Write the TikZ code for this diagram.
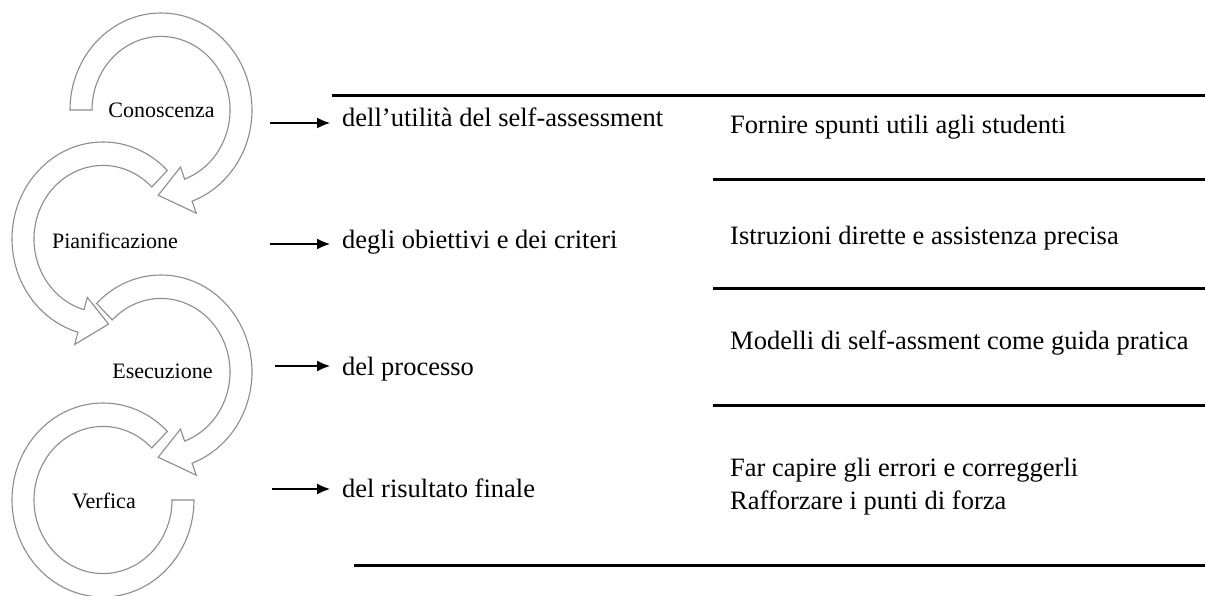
\documentclass[tikz,border=0pt]{standalone}
\usepackage{fontspec}
\setmainfont{Liberation Serif}
\usetikzlibrary{calc,arrows.meta}

% curved band arrow: centre x, centre y, start angle, end angle, tip offset
\newcommand{\ringarrow}[5]{%
  \begin{scope}[shift={(#1,#2)}, yscale=1.066]
    \draw[cyc] (#3:91) arc[start angle=#3, end angle=#4, radius=91]
      -- (#4:103) -- ({#4+#5}:80) -- (#4:57) -- (#4:69)
      arc[start angle=#4, end angle=#3, radius=69] -- cycle;
  \end{scope}}

\begin{document}
\begin{tikzpicture}[x=1pt, y=-1pt,
  cyc/.style={draw=black!45, fill=white, line width=1.1pt, line join=miter},
  rule/.style={line width=3pt},
  pointer/.style={line width=1.3pt, -{Latex[length=13pt,width=11pt]}, shorten >=12pt},
  stage/.style={font=\fontsize{22}{24}\selectfont, inner sep=0pt, anchor=base},
  item/.style={font=\fontsize{26.5}{33}\selectfont, inner sep=0pt, anchor=base west, align=left},
]
\useasboundingbox (0,0) rectangle (1205,596);

% cycle of four stages, drawn bottom-up so each head lies on top
\begin{scope}[shift={(103,500)}, yscale=1.066]
  \draw[cyc] (-45:91) arc[start angle=-45, end angle=-360, radius=91]
    -- (-360:69) arc[start angle=-360, end angle=-45, radius=69] -- cycle;
\end{scope}
\ringarrow{161}{372}{-135}{70}{22}
\ringarrow{103}{239}{-45}{-254}{-20}
\ringarrow{161}{110}{180}{430}{22}

% stage labels
\node[stage] (s1) at (161.5,118) {Conoscenza};
\node[stage] (s2) at (115,248) {Pianificazione};
\node[stage] (s3) at (162.5,378) {Esecuzione};
\node[stage] (s4) at (104,508) {Verfica};

% what each stage concerns
\node[item] (m1) at (342,127) {dell’utilità del self-assessment};
\node[item] (m2) at (342,249) {degli obiettivi e dei criteri};
\node[item] (m3) at (342,375) {del processo};
\node[item] (m4) at (342,497) {del risultato finale};

\coordinate (p1) at (270,123);
\coordinate (p2) at (270,244);
\coordinate (p3) at (275,366);
\coordinate (p4) at (272,489);
\draw[pointer] (p1) -- (p1 -| m1.west);
\draw[pointer] (p2) -- (p2 -| m2.west);
\draw[pointer] (p3) -- (p3 -| m3.west);
\draw[pointer] (p4) -- (p4 -| m4.west);

% teacher actions
\node[item] (r1) at (730,134) {Fornire spunti utili agli studenti};
\node[item] (r2) at (730,244) {Istruzioni dirette e assistenza precisa};
\node[item] (r3) at (730,349) {Modelli di self-assment come guida pratica};
\node[item] (r4) at (730,509) {Far capire gli errori e correggerli\\Rafforzare i punti di forza};

% table rules
\draw[rule] (332,95.5) -- (1205,95.5);
\draw[rule] (713,180) -- (1205,180);
\draw[rule] (713,288) -- (1205,288);
\draw[rule] (713,405) -- (1205,405);
\draw[rule] (354,565.5) -- (1205,565.5);
\end{tikzpicture}
\end{document}
